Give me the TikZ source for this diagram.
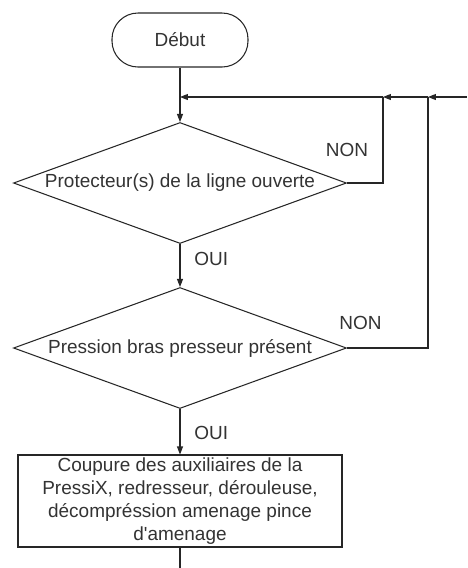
\documentclass[tikz,border=0pt]{standalone}
\usepackage{fontspec}
\setmainfont{Liberation Sans}
\usetikzlibrary{positioning, shapes.geometric, arrows.meta, calc}

\begin{document}
\begin{tikzpicture}[
  every node/.style = {font=\fontsize{10.8}{13}\selectfont, text=black!80},
  term/.style   = {draw, rounded corners=5.2mm, minimum width=27.2mm, minimum height=10.8mm},
  test/.style   = {draw, diamond, aspect=2.75, inner sep=0pt, minimum width=66.6mm, minimum height=24.2mm},
  action/.style = {draw, align=center, inner sep=0pt, minimum width=64.8mm, minimum height=18.4mm},
  fleche/.style = {-{Triangle[length=1.6mm, width=1.2mm]}},
  draw=black!85, line width=0.6pt
]
\useasboundingbox (0,0) rectangle (93.4mm,-113.6mm);

%--- Nodes ---
% debut
\node[term] (debut) at (36mm,-8mm) {Début};

% tests
\node[test] (prot)  at (36mm,-36.6mm) {Protecteur(s) de la ligne ouverte};
\node[test] (press) at (36mm,-69.6mm) {Pression bras presseur présent};

% coupure
\node[action] (coupure) at (36mm,-100.2mm)
  {Coupure des auxiliaires de la\\PressiX, redresseur, dérouleuse,\\décompréssion amenage pince\\d\textquotesingle amenage};

%--- Junctions ---
\coordinate (j1)     at (36mm,-19.4mm);
\coordinate (j2)     at (76.6mm,-19.4mm);
\coordinate (j3)     at (85.6mm,-19.4mm);
\coordinate (entree) at (93.4mm,-19.4mm);
\coordinate (sortie) at (36mm,-113.6mm);

%--- Return lines ---
\draw[fleche] (entree) -- (j3);
\draw[fleche] (j3) -- (j2);
\draw[fleche] (j2) -- (j1);

%--- debut -> prot ---
\draw[fleche] (debut) -- (prot);

%--- NON branches ---
\draw (prot.east) -| (j2);
\node (non1) at ([yshift=6.6mm]prot.east) {NON};
\draw (press.east) -| (j3);
\node (non2) at ([xshift=2.7mm, yshift=5mm]press.east) {NON};

%--- OUI branches ---
\draw[fleche] (prot) -- node[right=1.6mm, pos=0.34]{OUI} (press);
\draw[fleche] (press) -- node[right=1.6mm, pos=0.53]{OUI} (coupure);

%--- coupure -> suite ---
\draw (coupure) -- (sortie);

\end{tikzpicture}
\end{document}
